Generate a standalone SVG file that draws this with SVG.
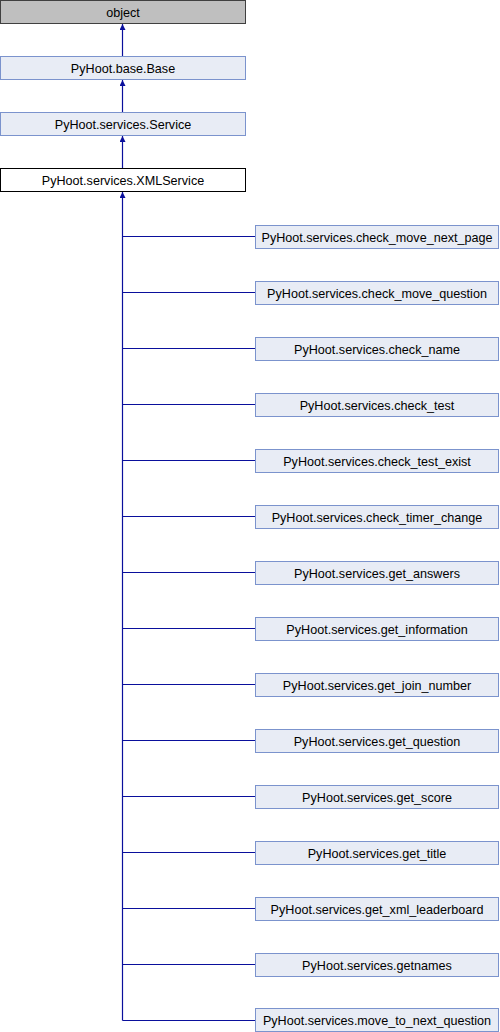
<svg xmlns="http://www.w3.org/2000/svg" width="500" height="1032" viewBox="0 0 500 1032">
<defs>
<style>
.n rect{fill:#e8ecf5;stroke:#7b93cd;stroke-width:1}
.n text{font-family:"Liberation Sans",Arial,sans-serif;font-size:12.6px;fill:#000;text-anchor:middle}
.c path{fill:none;stroke:#0a0f9c;stroke-width:1.2}
</style>
<marker id="ah" viewBox="0 0 10 10" refX="10" refY="5" markerWidth="6" markerHeight="6" orient="auto" markerUnits="userSpaceOnUse">
<path d="M0,0 L10,5 L0,10 Z" fill="#0a0f9c"/>
</marker>
</defs>
<g class="c">
<path d="M122.5,56 V24" marker-end="url(#ah)"/>
<path d="M122.5,112 V80" marker-end="url(#ah)"/>
<path d="M122.5,168 V136" marker-end="url(#ah)"/>
<path d="M122.5,1020.5 V192" marker-end="url(#ah)"/>
<path d="M122.5,236.5 H255"/>
<path d="M122.5,292.5 H255"/>
<path d="M122.5,348.5 H255"/>
<path d="M122.5,404.5 H255"/>
<path d="M122.5,460.5 H255"/>
<path d="M122.5,516.5 H255"/>
<path d="M122.5,572.5 H255"/>
<path d="M122.5,628.5 H255"/>
<path d="M122.5,684.5 H255"/>
<path d="M122.5,740.5 H255"/>
<path d="M122.5,796.5 H255"/>
<path d="M122.5,852.5 H255"/>
<path d="M122.5,908.5 H255"/>
<path d="M122.5,964.5 H255"/>
<path d="M122.5,1020.5 H255"/>
</g>
<g id="object" class="n"><rect x="0.5" y="0.5" width="245" height="23" style="fill:#bfbfbf;stroke:#404040"/><text x="123" y="16.5">object</text></g>
<g id="base" class="n"><rect x="0.5" y="56.5" width="245" height="23"/><text x="123" y="72.5">PyHoot.base.Base</text></g>
<g id="service" class="n"><rect x="0.5" y="112.5" width="245" height="23"/><text x="123" y="128.5">PyHoot.services.Service</text></g>
<g id="xmlservice" class="n"><rect x="0.5" y="168.5" width="245" height="23" style="fill:#fff;stroke:#000"/><text x="123" y="184.5">PyHoot.services.XMLService</text></g>
<g id="c1" class="n"><rect x="255.5" y="225.5" width="243" height="23"/><text x="377" y="241.5">PyHoot.services.check_move_next_page</text></g>
<g id="c2" class="n"><rect x="255.5" y="281.5" width="243" height="23"/><text x="377" y="297.5">PyHoot.services.check_move_question</text></g>
<g id="c3" class="n"><rect x="255.5" y="337.5" width="243" height="23"/><text x="377" y="353.5">PyHoot.services.check_name</text></g>
<g id="c4" class="n"><rect x="255.5" y="393.5" width="243" height="23"/><text x="377" y="409.5">PyHoot.services.check_test</text></g>
<g id="c5" class="n"><rect x="255.5" y="449.5" width="243" height="23"/><text x="377" y="465.5">PyHoot.services.check_test_exist</text></g>
<g id="c6" class="n"><rect x="255.5" y="505.5" width="243" height="23"/><text x="377" y="521.5">PyHoot.services.check_timer_change</text></g>
<g id="c7" class="n"><rect x="255.5" y="561.5" width="243" height="23"/><text x="377" y="577.5">PyHoot.services.get_answers</text></g>
<g id="c8" class="n"><rect x="255.5" y="617.5" width="243" height="23"/><text x="377" y="633.5">PyHoot.services.get_information</text></g>
<g id="c9" class="n"><rect x="255.5" y="673.5" width="243" height="23"/><text x="377" y="689.5">PyHoot.services.get_join_number</text></g>
<g id="c10" class="n"><rect x="255.5" y="729.5" width="243" height="23"/><text x="377" y="745.5">PyHoot.services.get_question</text></g>
<g id="c11" class="n"><rect x="255.5" y="785.5" width="243" height="23"/><text x="377" y="801.5">PyHoot.services.get_score</text></g>
<g id="c12" class="n"><rect x="255.5" y="841.5" width="243" height="23"/><text x="377" y="857.5">PyHoot.services.get_title</text></g>
<g id="c13" class="n"><rect x="255.5" y="897.5" width="243" height="23"/><text x="377" y="913.5">PyHoot.services.get_xml_leaderboard</text></g>
<g id="c14" class="n"><rect x="255.5" y="953.5" width="243" height="23"/><text x="377" y="969.5">PyHoot.services.getnames</text></g>
<g id="c15" class="n"><rect x="255.5" y="1008.5" width="243" height="23"/><text x="377" y="1024.5">PyHoot.services.move_to_next_question</text></g>
</svg>
